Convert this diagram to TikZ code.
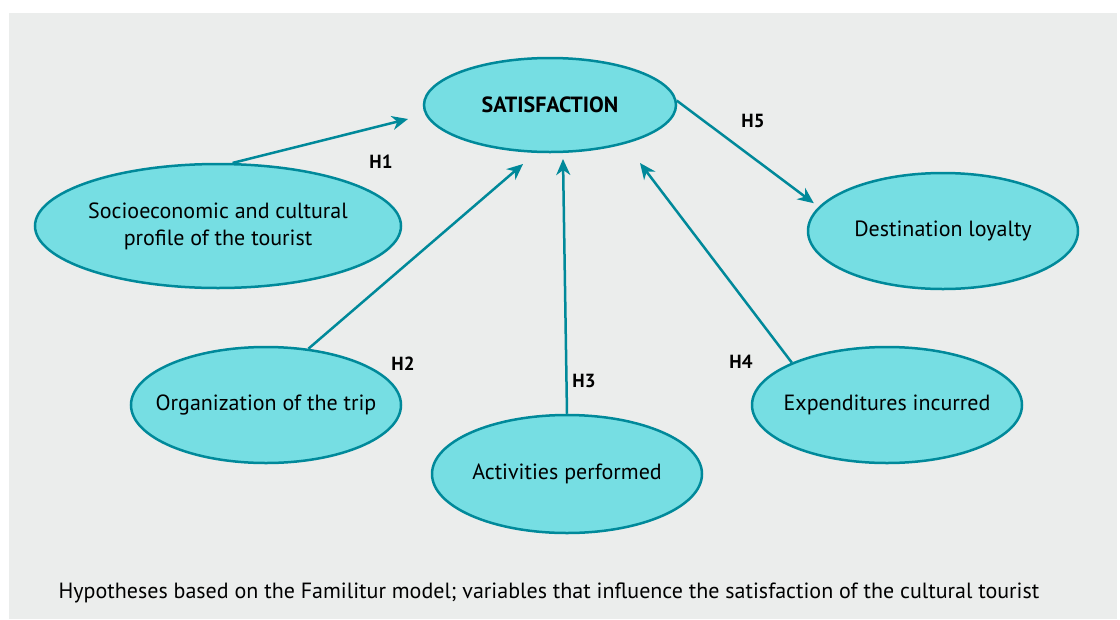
\documentclass[tikz,border=0pt]{standalone}
\usepackage{fontspec}
\setmainfont{PT Sans}
\usetikzlibrary{shapes.geometric,arrows.meta}
\definecolor{bgrey}{HTML}{EBEDEC}
\definecolor{cyanfill}{HTML}{76DEE3}
\definecolor{tealline}{HTML}{00899A}

\begin{document}
\begin{tikzpicture}[x=1pt,y=-1pt,
  var/.style={ellipse, draw=tealline, fill=cyanfill, line width=2.5pt,
    inner xsep=-45pt, inner ysep=0pt,
    minimum width=270pt, minimum height=116pt, align=center,
    font=\fontsize{22}{27}\selectfont},
  hyp/.style={font=\fontsize{19}{22}\selectfont\bfseries},
  link/.style={draw=tealline, line width=2.5pt, -{Stealth[length=16pt,width=14pt,inset=5pt]}}]
%\draw[draw=black] (0,0) rectangle (1120,619);
\useasboundingbox (0,0) rectangle (1120,619);
\fill[bgrey] (9,13) rectangle (1117,619);
\node[var, minimum width=252pt, minimum height=94pt, font=\fontsize{22}{27}\selectfont\bfseries] (sat) at (550,105) {SATISFACTION};
\node[var, minimum width=366pt, minimum height=124pt] (soc) at (218,226) {Socioeconomic and cultural\\profile of the tourist};
\node[var] (org) at (266,405) {Organization of the trip};
\node[var, minimum height=118pt] (act) at (567,474) {Activities performed};
\node[var] (exp) at (887,405) {Expenditures incurred};
\node[var] (loy) at (943,231) {Destination loyalty};
% arrow tips stop short of the ellipse
\coordinate (t1) at (408,119);
\coordinate (t2) at (523,164);
\coordinate (t3) at (563,159);
\coordinate (t4) at (640,163);
\draw[link] (soc.77) -- (t1);
\draw[link] (org.53) -- (t2);
\draw[link] (act.north) -- (t3);
\draw[link] (exp.156) -- (t4);
\draw[link, shorten >=6pt] (sat.2) -- (loy.169);
\node[hyp] (h1) at (381,162) {H1};
\node[hyp] (h2) at (403,364) {H2};
\node[hyp] (h3) at (584,381) {H3};
\node[hyp] (h4) at (741,362) {H4};
\node[hyp] (h5) at (753,121) {H5};
\node[font=\fontsize{22}{26}\selectfont] (cap) at (549,593) {Hypotheses based on the Familitur model; variables that influence the satisfaction of the cultural tourist};
\end{tikzpicture}
\end{document}
